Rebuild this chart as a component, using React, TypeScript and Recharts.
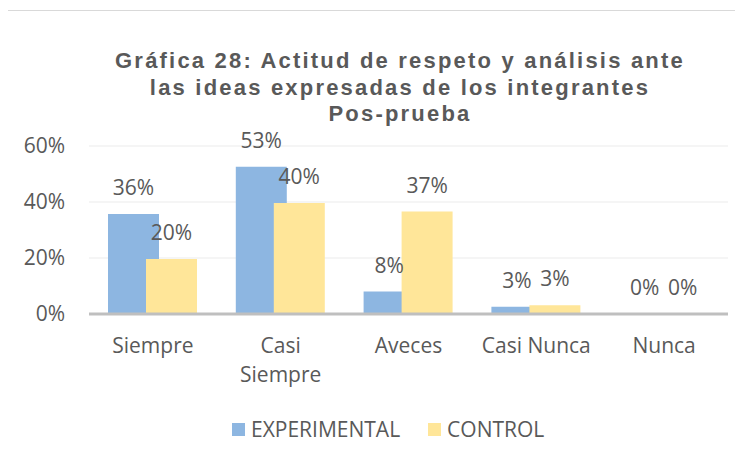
import React from "react";
import { Bar, BarChart, CartesianGrid, LabelList, XAxis, YAxis } from "recharts";

const categories = ["Siempre", "Casi Siempre", "Aveces", "Casi Nunca", "Nunca"];
const experimental = [0.357, 0.526, 0.08, 0.026, 0];
const control = [0.196, 0.396, 0.366, 0.031, 0];
const yTicks = [0, 0.2, 0.4, 0.6];
const titleLines = [
  "Gráfica 28: Actitud de respeto y análisis ante",
  "las ideas expresadas de los integrantes",
  "Pos-prueba",
];

const BLUE = "#8db6e1";
const YELLOW = "#ffe699";
const TEXT = "#595959";
const FONT = "'Open Sans', sans-serif";

const data = categories.map((name, i) => ({
  name,
  experimental: experimental[i],
  control: control[i],
}));

const pct = (v: number) => `${Math.round(v * 100)}%`;

// Excel wraps the longer category names onto two lines
function CategoryTick({ x, y, payload }: any) {
  const label: string = payload.value;
  const lines = label.length > 10 ? label.split(" ") : [label];
  return (
    <text x={x} y={y + 39} textAnchor="middle" fill={TEXT} fontFamily={FONT} fontSize={21}>
      {lines.map((l, i) => (
        <tspan key={i} x={x} dy={i === 0 ? 0 : 29}>
          {l}
        </tspan>
      ))}
    </text>
  );
}

// value label drawn above each bar, also for zero-height bars
function ValueLabel({ x, y, width, value }: any) {
  return (
    <text
      x={x + width / 2}
      y={y - 19}
      textAnchor="middle"
      fill={TEXT}
      fontFamily={FONT}
      fontSize={21}
    >
      {pct(Number(value))}
    </text>
  );
}

function LegendItem({ color, label }: { color: string; label: string }) {
  return (
    <div style={{ display: "flex", alignItems: "center", marginRight: 28 }}>
      <div style={{ width: 13, height: 13, background: color, marginRight: 6 }} />
      <span>{label}</span>
    </div>
  );
}

export default function App() {
  return (
    <div
      style={{
        position: "relative",
        width: 743,
        height: 459,
        margin: -8,
        overflow: "hidden",
        background: "#fff",
      }}
    >
      <div
        style={{
          position: "absolute",
          left: 7,
          top: 10,
          width: 760,
          height: 480,
          border: "1px solid #d9d9d9",
        }}
      />
      <div
        style={{
          position: "absolute",
          left: 400,
          top: 48,
          transform: "translateX(-50%)",
          whiteSpace: "nowrap",
          textAlign: "center",
          fontFamily: "'Liberation Sans', Arial, sans-serif",
          fontWeight: "bold",
          fontSize: 22,
          lineHeight: "26.5px",
          letterSpacing: 2.2,
          color: TEXT,
        }}
      >
        {titleLines.map((t, i) => (
          <div key={i}>{t}</div>
        ))}
      </div>
      <div style={{ position: "absolute", left: 0, top: 0 }}>
        <BarChart
          width={743}
          height={459}
          data={data}
          margin={{ top: 146, right: 15, left: 0, bottom: 0 }}
          barSize={51}
          barGap={-13}
        >
          <CartesianGrid vertical={false} stroke="#ebebeb" strokeWidth={1} />
          <XAxis
            dataKey="name"
            height={145}
            tickSize={0}
            tickMargin={0}
            axisLine={{ stroke: "#bfbfbf", strokeWidth: 3 }}
            tickLine={false}
            tick={<CategoryTick />}
            interval={0}
          />
          <YAxis
            width={89}
            domain={[0, 0.6]}
            ticks={yTicks}
            tickFormatter={pct}
            axisLine={false}
            tickLine={false}
            tickSize={0}
            tickMargin={24}
            tick={{ fill: TEXT, fontFamily: FONT, fontSize: 21 }}
          />
          <Bar dataKey="experimental" fill={BLUE} minPointSize={0.01} isAnimationActive={false}>
            <LabelList dataKey="experimental" content={<ValueLabel />} />
          </Bar>
          <Bar dataKey="control" fill={YELLOW} minPointSize={0.01} isAnimationActive={false}>
            <LabelList dataKey="control" content={<ValueLabel />} />
          </Bar>
        </BarChart>
      </div>
      <div
        style={{
          position: "absolute",
          left: 232,
          top: 414,
          display: "flex",
          fontFamily: FONT,
          fontSize: 21,
          lineHeight: "30px",
          color: TEXT,
        }}
      >
        <LegendItem color={BLUE} label="EXPERIMENTAL" />
        <LegendItem color={YELLOW} label="CONTROL" />
      </div>
    </div>
  );
}
